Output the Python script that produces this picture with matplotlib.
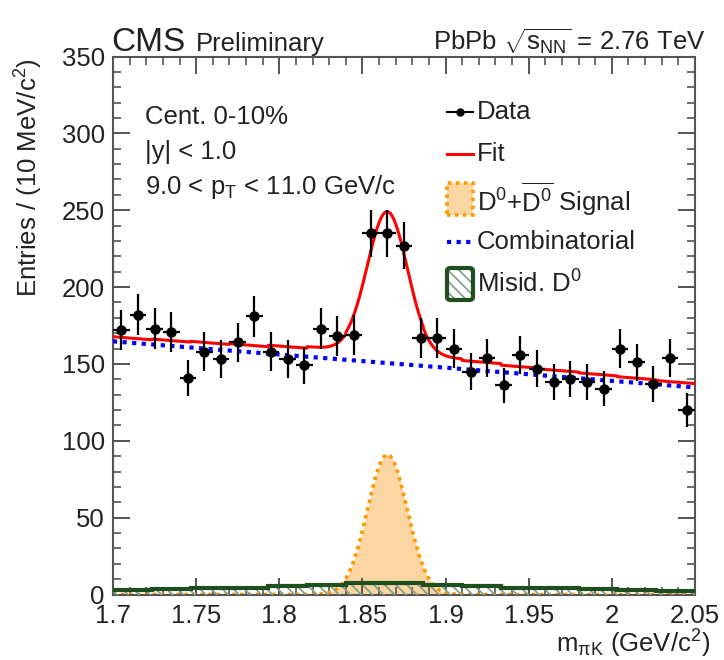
import numpy as np
import matplotlib
matplotlib.use('Agg')
import matplotlib.pyplot as plt
from matplotlib.patches import Rectangle, FancyBboxPatch

plt.rcParams['font.family'] = ['Liberation Sans', 'DejaVu Sans']
plt.rcParams['mathtext.fontset'] = 'custom'
plt.rcParams['mathtext.rm'] = 'Liberation Sans'
plt.rcParams['mathtext.it'] = 'Liberation Sans:italic'
plt.rcParams['mathtext.bf'] = 'Liberation Sans:bold'
plt.rcParams['mathtext.default'] = 'regular'
plt.rcParams['hatch.linewidth'] = 1.3

# ---------------- data ----------------
mass_centers = [1.705, 1.715, 1.725, 1.735, 1.745, 1.755, 1.765, 1.775, 1.785, 1.795,
                1.805, 1.815, 1.825, 1.835, 1.845, 1.855, 1.865, 1.875, 1.885, 1.895,
                1.905, 1.915, 1.925, 1.935, 1.945, 1.955, 1.965, 1.975, 1.985, 1.995,
                2.005, 2.015, 2.025, 2.035, 2.045]
counts = [172, 182, 173, 171, 141, 158, 153, 164, 181, 158,
          153, 149, 173, 168, 169, 235, 235, 227, 167, 167,
          160, 145, 154, 136, 156, 147, 138, 140, 138, 134,
          160, 151, 137, 154, 120]
bin_half_width = 0.005

# combinatorial background (linear): values at the two ends of the range
comb_x = [1.70, 2.05]
comb_y = [164.7, 134.7]

# D0 signal (gaussian) parameters
sig_mean = 1.865
sig_sigma = 0.012
sig_amp = 91.0

# misidentified D0 template (histogram)
misid_edges = [1.7, 1.7233, 1.7467, 1.77, 1.7933, 1.8167, 1.84, 1.8633, 1.8867,
               1.91, 1.9333, 1.9567, 1.98, 2.0033, 2.0267, 2.05]
misid_vals = [3.0, 3.5, 4.0, 4.5, 5.5, 6.5, 7.5, 7.5, 6.5, 5.5, 4.5, 4.0, 3.5, 3.0, 2.5]

xticks = [1.7, 1.75, 1.8, 1.85, 1.9, 1.95, 2.0, 2.05]
xticklabels = ['1.7', '1.75', '1.8', '1.85', '1.9', '1.95', '2', '2.05']
yticks = [0, 50, 100, 150, 200, 250, 300, 350]

# ---------------- model curves ----------------
xf = np.linspace(1.7, 2.05, 1401)
comb_f = np.interp(xf, comb_x, comb_y)
sig_f = sig_amp * np.exp(-0.5 * ((xf - sig_mean) / sig_sigma) ** 2)
idx = np.clip(np.searchsorted(misid_edges, xf, side='right') - 1, 0, len(misid_vals) - 1)
misid_f = np.array(misid_vals)[idx]
total_f = comb_f + sig_f + misid_f

# ---------------- figure ----------------
fig = plt.figure(figsize=(7.24, 6.60), dpi=100)
ax = fig.add_axes([113 / 724, 1 - 594.5 / 660, 582 / 724, 538 / 660])

FS = 18.5
orange_fill = '#fbd6a2'
orange_line = '#ff9900'
green = '#1f4f1f'
hatch_col = '#8aa08a'

# signal
ax.fill_between(xf, 0, sig_f, color=orange_fill, lw=0, zorder=1)
ax.plot(xf, sig_f, color=orange_line, lw=2.6, ls=(0, (1, 1.2)), zorder=2)
# misid
ax.stairs(misid_vals, misid_edges, fill=True, facecolor='none', edgecolor=hatch_col,
          hatch='\\\\\\', lw=0, zorder=3)
ax.stairs(misid_vals, misid_edges, fill=False, edgecolor=green, lw=3, baseline=None, zorder=4)
# combinatorial
ax.plot(xf, comb_f, color='#0000ff', lw=3, ls=(0, (1, 1.3)), zorder=5)
# total fit
ax.plot(xf, total_f, color='#ff0000', lw=2.2, zorder=6)
# data
ax.errorbar(mass_centers, counts, yerr=np.sqrt(counts), xerr=bin_half_width,
            fmt='o', color='black', ms=6.5, elinewidth=1.6, capsize=0, zorder=7)

ax.set_xlim(1.7, 2.05)
ax.set_ylim(0, 350)
ax.set_xticks(xticks)
ax.set_xticklabels(xticklabels)
ax.set_yticks(yticks)
ax.xaxis.set_minor_locator(matplotlib.ticker.MultipleLocator(0.01))
ax.yaxis.set_minor_locator(matplotlib.ticker.MultipleLocator(10))
ax.tick_params(which='both', direction='in', top=True, right=True, color='#555555',
               labelsize=FS)
ax.tick_params(which='major', length=12, width=1.4)
ax.tick_params(which='minor', length=6, width=1.2)
ax.tick_params(axis='x', pad=7)
ax.tick_params(axis='y', pad=6)
for s in ax.spines.values():
    s.set_color('#555555')
    s.set_linewidth(1.5)
for lab in ax.get_xticklabels() + ax.get_yticklabels():
    lab.set_color('#222222')

# axis titles
fig.text(29 / 724, 1 - 58 / 660, 'Entries / (10 MeV/c$^{2}$)', rotation=90,
         ha='center', va='top', fontsize=FS, color='#222222')
fig.text(710 / 724, 1 - 659.5 / 660, 'm$_{\\pi K}$ (GeV/c$^{2}$)', ha='right',
         va='bottom', fontsize=FS, color='#222222')

# header
fig.text(111 / 724, 1 - 51 / 660, 'CMS', fontsize=24, ha='left', va='baseline', color='#222222')
fig.text(196 / 724, 1 - 51 / 660, 'Preliminary', fontsize=FS, ha='left', va='baseline',
         color='#222222')
fig.text(706 / 724, 1 - 51 / 660, 'PbPb $\\sqrt{s_{NN}}$ = 2.76 TeV', fontsize=FS,
         ha='right', va='baseline', color='#222222')

# info text
def pxy(x, y):
    return (x - 113) / 582, (594.5 - y) / 538

for txt, yy in [('Cent. 0-10%', 117), ('|y| < 1.0', 152),
                ('9.0 < p$_{T}$ < 11.0 GeV/c', 187)]:
    X, Y = pxy(145, yy)
    ax.text(X, Y, txt, transform=ax.transAxes, fontsize=FS, ha='left', va='center',
            color='#222222')

# legend (manual)
hx0, hx1 = pxy(447, 0)[0], pxy(473, 0)[0]
tx = pxy(477, 0)[0]
rows = {'Data': 112, 'Fit': 154, 'Signal': 199, 'Comb': 242, 'Misid': 284}

y = pxy(0, rows['Data'])[1]
ax.plot([hx0, hx1], [y, y], color='black', lw=1.5, transform=ax.transAxes, clip_on=False)
ax.plot([(hx0 + hx1) / 2], [y], 'o', color='black', ms=5, transform=ax.transAxes, clip_on=False)
ax.text(tx, y, 'Data', transform=ax.transAxes, fontsize=FS, va='center', color='#222222')

y = pxy(0, rows['Fit'])[1]
ax.plot([hx0, hx1], [y, y], color='#ff0000', lw=2.2, transform=ax.transAxes, clip_on=False)
ax.text(tx, y, 'Fit', transform=ax.transAxes, fontsize=FS, va='center', color='#222222')

y = pxy(0, rows['Signal'])[1]
bh = 32 / 538
ax.add_patch(Rectangle((hx0, y - bh / 2), hx1 - hx0, bh, transform=ax.transAxes,
                       facecolor=orange_fill, edgecolor=orange_line, lw=2.6,
                       ls=(0, (1, 1.2)), clip_on=False))
ax.text(tx, y, 'D$^{0}$+$\\overline{D^{0}}$ Signal', transform=ax.transAxes, fontsize=FS,
        va='center', color='#222222')

y = pxy(0, rows['Comb'])[1]
ax.plot([hx0, hx1], [y, y], color='#0000ff', lw=3, ls=(0, (1, 1.3)),
        transform=ax.transAxes, clip_on=False)
ax.text(tx, y, 'Combinatorial', transform=ax.transAxes, fontsize=FS, va='center',
        color='#222222')

y = pxy(0, rows['Misid'])[1]
ax.add_patch(Rectangle((hx0, y - bh / 2), hx1 - hx0, bh, transform=ax.transAxes,
                       facecolor='white', edgecolor=hatch_col, hatch='\\\\\\', lw=0,
                       clip_on=False))
ax.add_patch(FancyBboxPatch((hx0, y - bh / 2), hx1 - hx0, bh, transform=ax.transAxes,
                            boxstyle='round,pad=0,rounding_size=0.006',
                            facecolor='none', edgecolor=green, lw=3, clip_on=False))
ax.text(tx, y, 'Misid. D$^{0}$', transform=ax.transAxes, fontsize=FS, va='center',
        color='#222222')

fig.savefig('out.png', dpi=100)
